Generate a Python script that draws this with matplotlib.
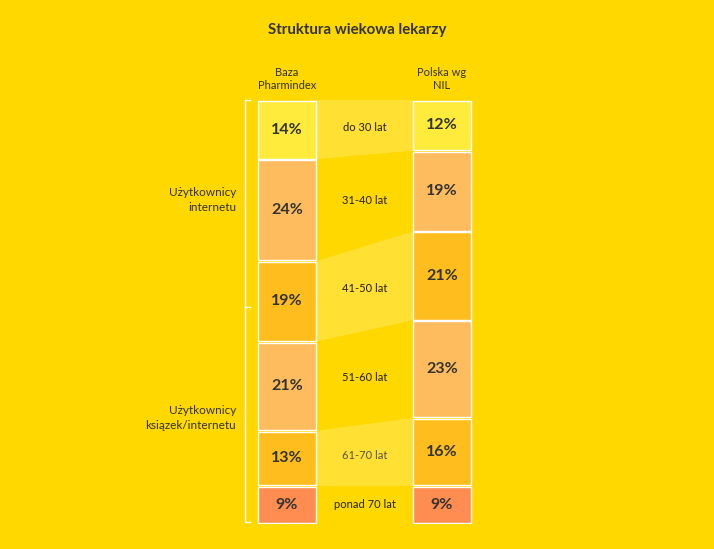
import matplotlib
matplotlib.use("Agg")
import matplotlib.pyplot as plt
from matplotlib.patches import Rectangle, Polygon
import numpy as np

plt.rcParams["font.family"] = ["Lato", "DejaVu Sans"]

# ---------------------------------------------------------------------------
# Data
# ---------------------------------------------------------------------------
age_groups = ["do 30 lat", "31-40 lat", "41-50 lat", "51-60 lat", "61-70 lat", "ponad 70 lat"]
pharmindex = [14, 24, 19, 21, 13, 9]
polska_nil = [12, 19, 21, 23, 16, 9]
column_titles = ["Baza\nPharmindex", "Polska wg\nNIL"]
group_labels = ["Użytkownicy\ninternetu", "Użytkownicy\nksiązek/internetu"]
title = "Struktura wiekowa lekarzy"

# ---------------------------------------------------------------------------
# Style
# ---------------------------------------------------------------------------
BG = "#FFD800"
BAND = "#FFE033"
TEXT = "#333333"
seg_colors = ["#FFEB3B", "#FFBC5E", "#FFBE1E", "#FFBC5E", "#FFBE1E", "#FF8C50"]
band_colors = [BAND, BG, BAND, BG, BAND, BG]

W, H = 714, 549
fig = plt.figure(figsize=(W / 100, H / 100), dpi=100, facecolor=BG)
# axes: x in pixels, y in percent (0 at top, 100 at bottom)
top_px, bot_px = 100, 524
ax = fig.add_axes([0, (H - bot_px) / H, 1, (bot_px - top_px) / H])
ax.set_xlim(0, W)
ax.set_ylim(100, 0)
ax.axis("off")
ax.set_facecolor(BG)

left_x0, left_x1 = 258, 316
right_x0, right_x1 = 413, 471
gap = 0.2

left_cum = np.concatenate([[0], np.cumsum(pharmindex)])
right_cum = np.concatenate([[0], np.cumsum(polska_nil)])

# connecting bands
for i in range(len(age_groups)):
    lt, lb = left_cum[i], left_cum[i + 1]
    rt, rb = right_cum[i], right_cum[i + 1]
    poly = Polygon([(left_x1, lt), (right_x0, rt), (right_x0, rb), (left_x1, lb)],
                   closed=True, facecolor=band_colors[i], edgecolor="none", zorder=1)
    ax.add_patch(poly)
    ymid = (lt + lb + rt + rb) / 4
    col = "#555555" if i == 4 else "#222222"
    ax.text((left_x1 + right_x0) / 2, ymid, age_groups[i], ha="center", va="center",
            fontsize=8, color=col, zorder=3)

# segments
for cum, vals, x0, x1 in [(left_cum, pharmindex, left_x0, left_x1),
                          (right_cum, polska_nil, right_x0, right_x1)]:
    for i, v in enumerate(vals):
        y0 = cum[i] + gap
        hgt = v - 2 * gap
        ax.add_patch(Rectangle((x0, y0), x1 - x0, hgt, facecolor=seg_colors[i],
                               edgecolor="white", linewidth=1.0, zorder=2))
        ax.text((x0 + x1) / 2, cum[i] + v / 2, f"{v}%", ha="center", va="center",
                fontsize=11.5, fontweight="bold", color=TEXT, zorder=3)

# bracket on the left
bx = 245
split = 48.8
ax.plot([bx + 5, bx, bx, bx + 5], [0, 0, 100 - 0.4, 100 - 0.4], color="white", lw=1.0,
        clip_on=False, zorder=2)
ax.plot([bx, bx + 5], [split, split], color="white", lw=1.0, clip_on=False, zorder=2)

ax.text(236, 23.5, group_labels[0], ha="right", va="center", fontsize=8.5,
        color=TEXT, linespacing=1.45)
ax.text(236, 75, group_labels[1], ha="right", va="center", fontsize=8.5,
        color=TEXT, linespacing=1.45)

# column headers and title
fig.text((left_x0 + left_x1) / 2 / W, 1 - 79 / H, column_titles[0], ha="center", va="center",
         fontsize=8, color=TEXT, linespacing=1.3)
fig.text((right_x0 + right_x1) / 2 / W, 1 - 79 / H, column_titles[1], ha="center", va="center",
         fontsize=8, color=TEXT, linespacing=1.3)
fig.text(357 / W, 1 - 30 / H, title, ha="center", va="center", fontsize=10.8,
         fontweight="bold", color=TEXT)

fig.savefig("out.png", dpi=100, facecolor=BG)
